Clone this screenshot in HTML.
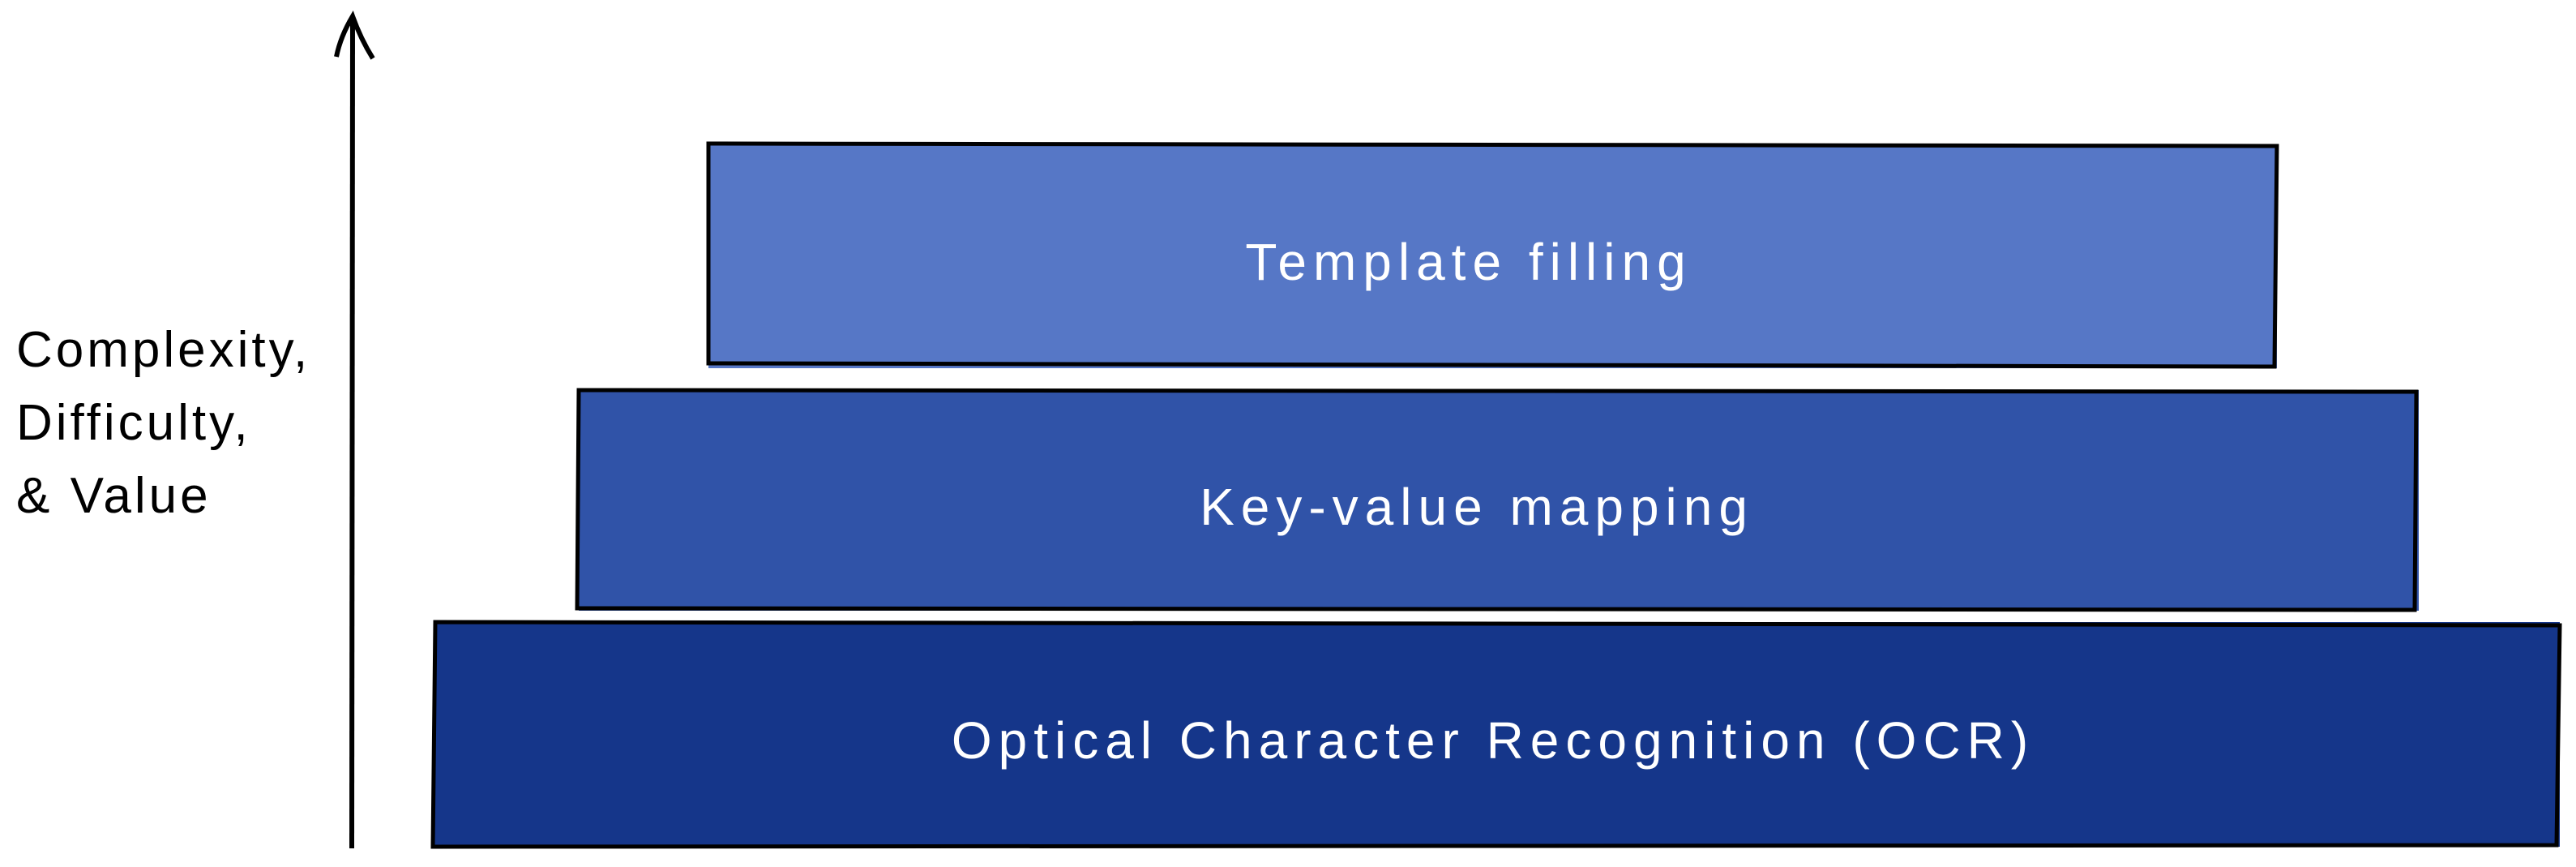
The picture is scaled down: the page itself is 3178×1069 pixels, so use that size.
<!DOCTYPE html>
<html><head><meta charset="utf-8"><style>
html,body{margin:0;padding:0;background:#fff;}
svg{display:block;}
text{font-family:"Liberation Sans",sans-serif;}
</style></head><body>
<svg width="3178" height="1069" viewBox="0 0 3178 1069" xmlns="http://www.w3.org/2000/svg">
<rect x="0" y="0" width="3178" height="1069" fill="#fff"/>
<line x1="434" y1="1046" x2="435" y2="20" stroke="#000" stroke-width="6"/>
<path d="M415 70 Q420 45 435 20 Q445 48 460 72" fill="none" stroke="#000" stroke-width="6"/>
<rect x="874" y="178" width="1935" height="276" fill="#5677c6"/>
<path d="M874 177 L2809 180 L2806 452 L874 448 Z" fill="none" stroke="#000" stroke-width="5"/>
<text x="1812" y="345" font-size="64" fill="#fff" text-anchor="middle" letter-spacing="8">Template filling</text>
<rect x="714" y="481" width="2270" height="272" fill="#3053a8"/>
<path d="M714 481 L2981 483 L2979 752 L712 750 Z" fill="none" stroke="#000" stroke-width="5"/>
<text x="1822" y="647" font-size="64" fill="#fff" text-anchor="middle" letter-spacing="8">Key-value mapping</text>
<rect x="535" y="767" width="2623" height="277" fill="#15368a"/>
<path d="M537 767 L3158 771 L3154 1042 L534 1044 Z" fill="none" stroke="#000" stroke-width="5"/>
<text x="1842" y="935" font-size="64" fill="#fff" text-anchor="middle" letter-spacing="8">Optical Character Recognition (OCR)</text>
<text x="20" y="452" font-size="62" fill="#000" letter-spacing="4">Complexity,</text>
<text x="20" y="542" font-size="62" fill="#000" letter-spacing="4">Difficulty,</text>
<text x="20" y="632" font-size="62" fill="#000" letter-spacing="4">&amp; Value</text>
</svg>
</body></html>
